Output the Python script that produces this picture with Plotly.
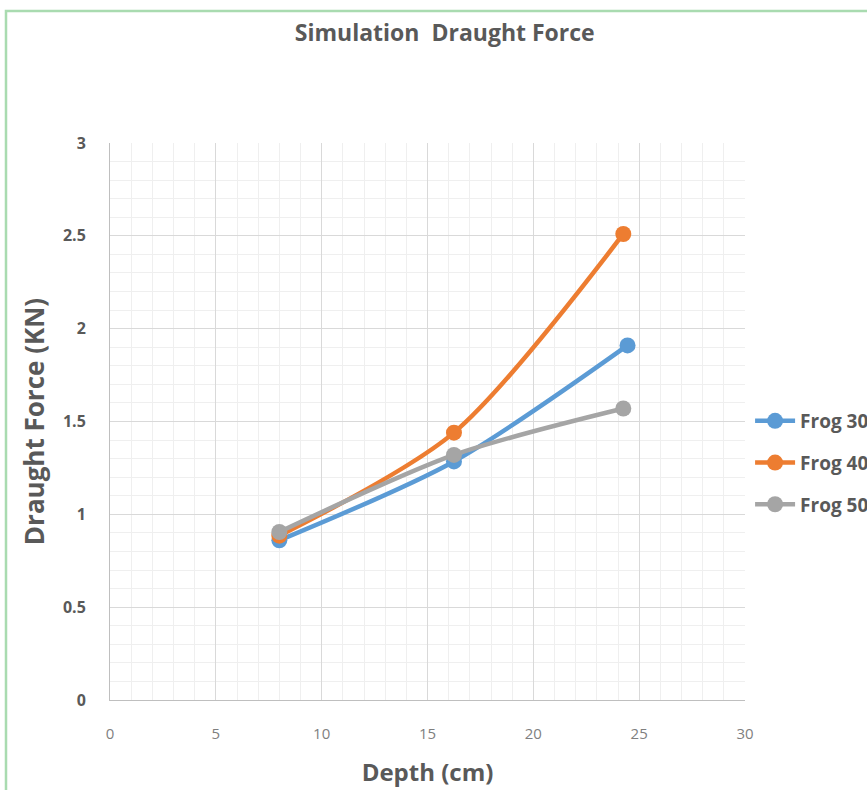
import plotly.graph_objects as go

depth_30 = [8.0, 16.25, 24.45]
force_30 = [0.86, 1.285, 1.91]
depth_40 = [8.0, 16.25, 24.25]
force_40 = [0.885, 1.44, 2.51]
depth_50 = [8.0, 16.25, 24.25]
force_50 = [0.905, 1.32, 1.57]
names = ["Frog 30", "Frog 40", "Frog 50"]
colors = ["#5b9bd5", "#ed7d31", "#a5a5a5"]

fig = go.Figure()
for xs, ys, n, c in zip([depth_30, depth_40, depth_50], [force_30, force_40, force_50], names, colors):
    fig.add_trace(go.Scatter(
        x=xs, y=ys, name=n, mode="lines+markers", legendgroup=n,
        line=dict(color=c, width=4.5, shape="spline", smoothing=0.8),
        marker=dict(color=c, size=16),
    ))

grid_major = "#d9d9d9"
grid_minor = "#efefef"
fig.update_layout(
    width=867, height=790,
    margin=dict(l=110, r=122, t=143, b=90, autoexpand=False),
    paper_bgcolor="white", plot_bgcolor="white",
    font=dict(family="Open Sans, Lato, sans-serif", color="#595959"),
    title=dict(text="<b>Simulation  Draught Force</b>", x=0.513, xanchor="center",
               y=1 - 33 / 790, yanchor="middle", font=dict(size=23, color="#595959")),
    showlegend=True,
    legend=dict(x=1.008, xanchor="left", y=0.4255, yanchor="middle",
                font=dict(size=19, color="#595959", family="Open Sans, sans-serif", weight="bold"),
                itemwidth=40, tracegroupgap=14, bgcolor="rgba(0,0,0,0)"),
    xaxis=dict(range=[0, 30], tickvals=[0, 5, 10, 15, 20, 25, 30],
               showgrid=True, gridcolor=grid_major, gridwidth=1,
               minor=dict(dtick=1, showgrid=True, gridcolor=grid_minor, gridwidth=1),
               showline=True, linecolor="#bfbfbf", linewidth=1, zeroline=False,
               ticklabelstandoff=20,
               tickfont=dict(size=15, color="#7f7f7f"),
               title=dict(text="<b>Depth (cm)</b>", font=dict(size=24, color="#595959"), standoff=22)),
    yaxis=dict(range=[0, 3], tickvals=[0, 0.5, 1, 1.5, 2, 2.5, 3],
               ticktext=["<b>0</b>", "<b>0.5</b>", "<b>1</b>", "<b>1.5</b>", "<b>2</b>", "<b>2.5</b>", "<b>3</b>"],
               showgrid=True, gridcolor=grid_major, gridwidth=1,
               minor=dict(dtick=0.1, showgrid=True, gridcolor=grid_minor, gridwidth=1),
               showline=True, linecolor="#bfbfbf", linewidth=1, zeroline=False,
               ticklabelstandoff=20,
               tickfont=dict(size=16, color="#595959"),
               title=dict(text="<b>Draught Force (KN)</b>", font=dict(size=26, color="#595959"), standoff=10)),
)

fig.add_shape(type="rect", xref="paper", yref="paper",
              x0=(6 - 110) / 635, x1=(880 - 110) / 635,
              y0=(700 - 800) / 557, y1=(700 - 11) / 557,
              line=dict(color="#a9dbb0", width=2.5), fillcolor="rgba(0,0,0,0)", layer="below")

fig.write_html("out.html")
